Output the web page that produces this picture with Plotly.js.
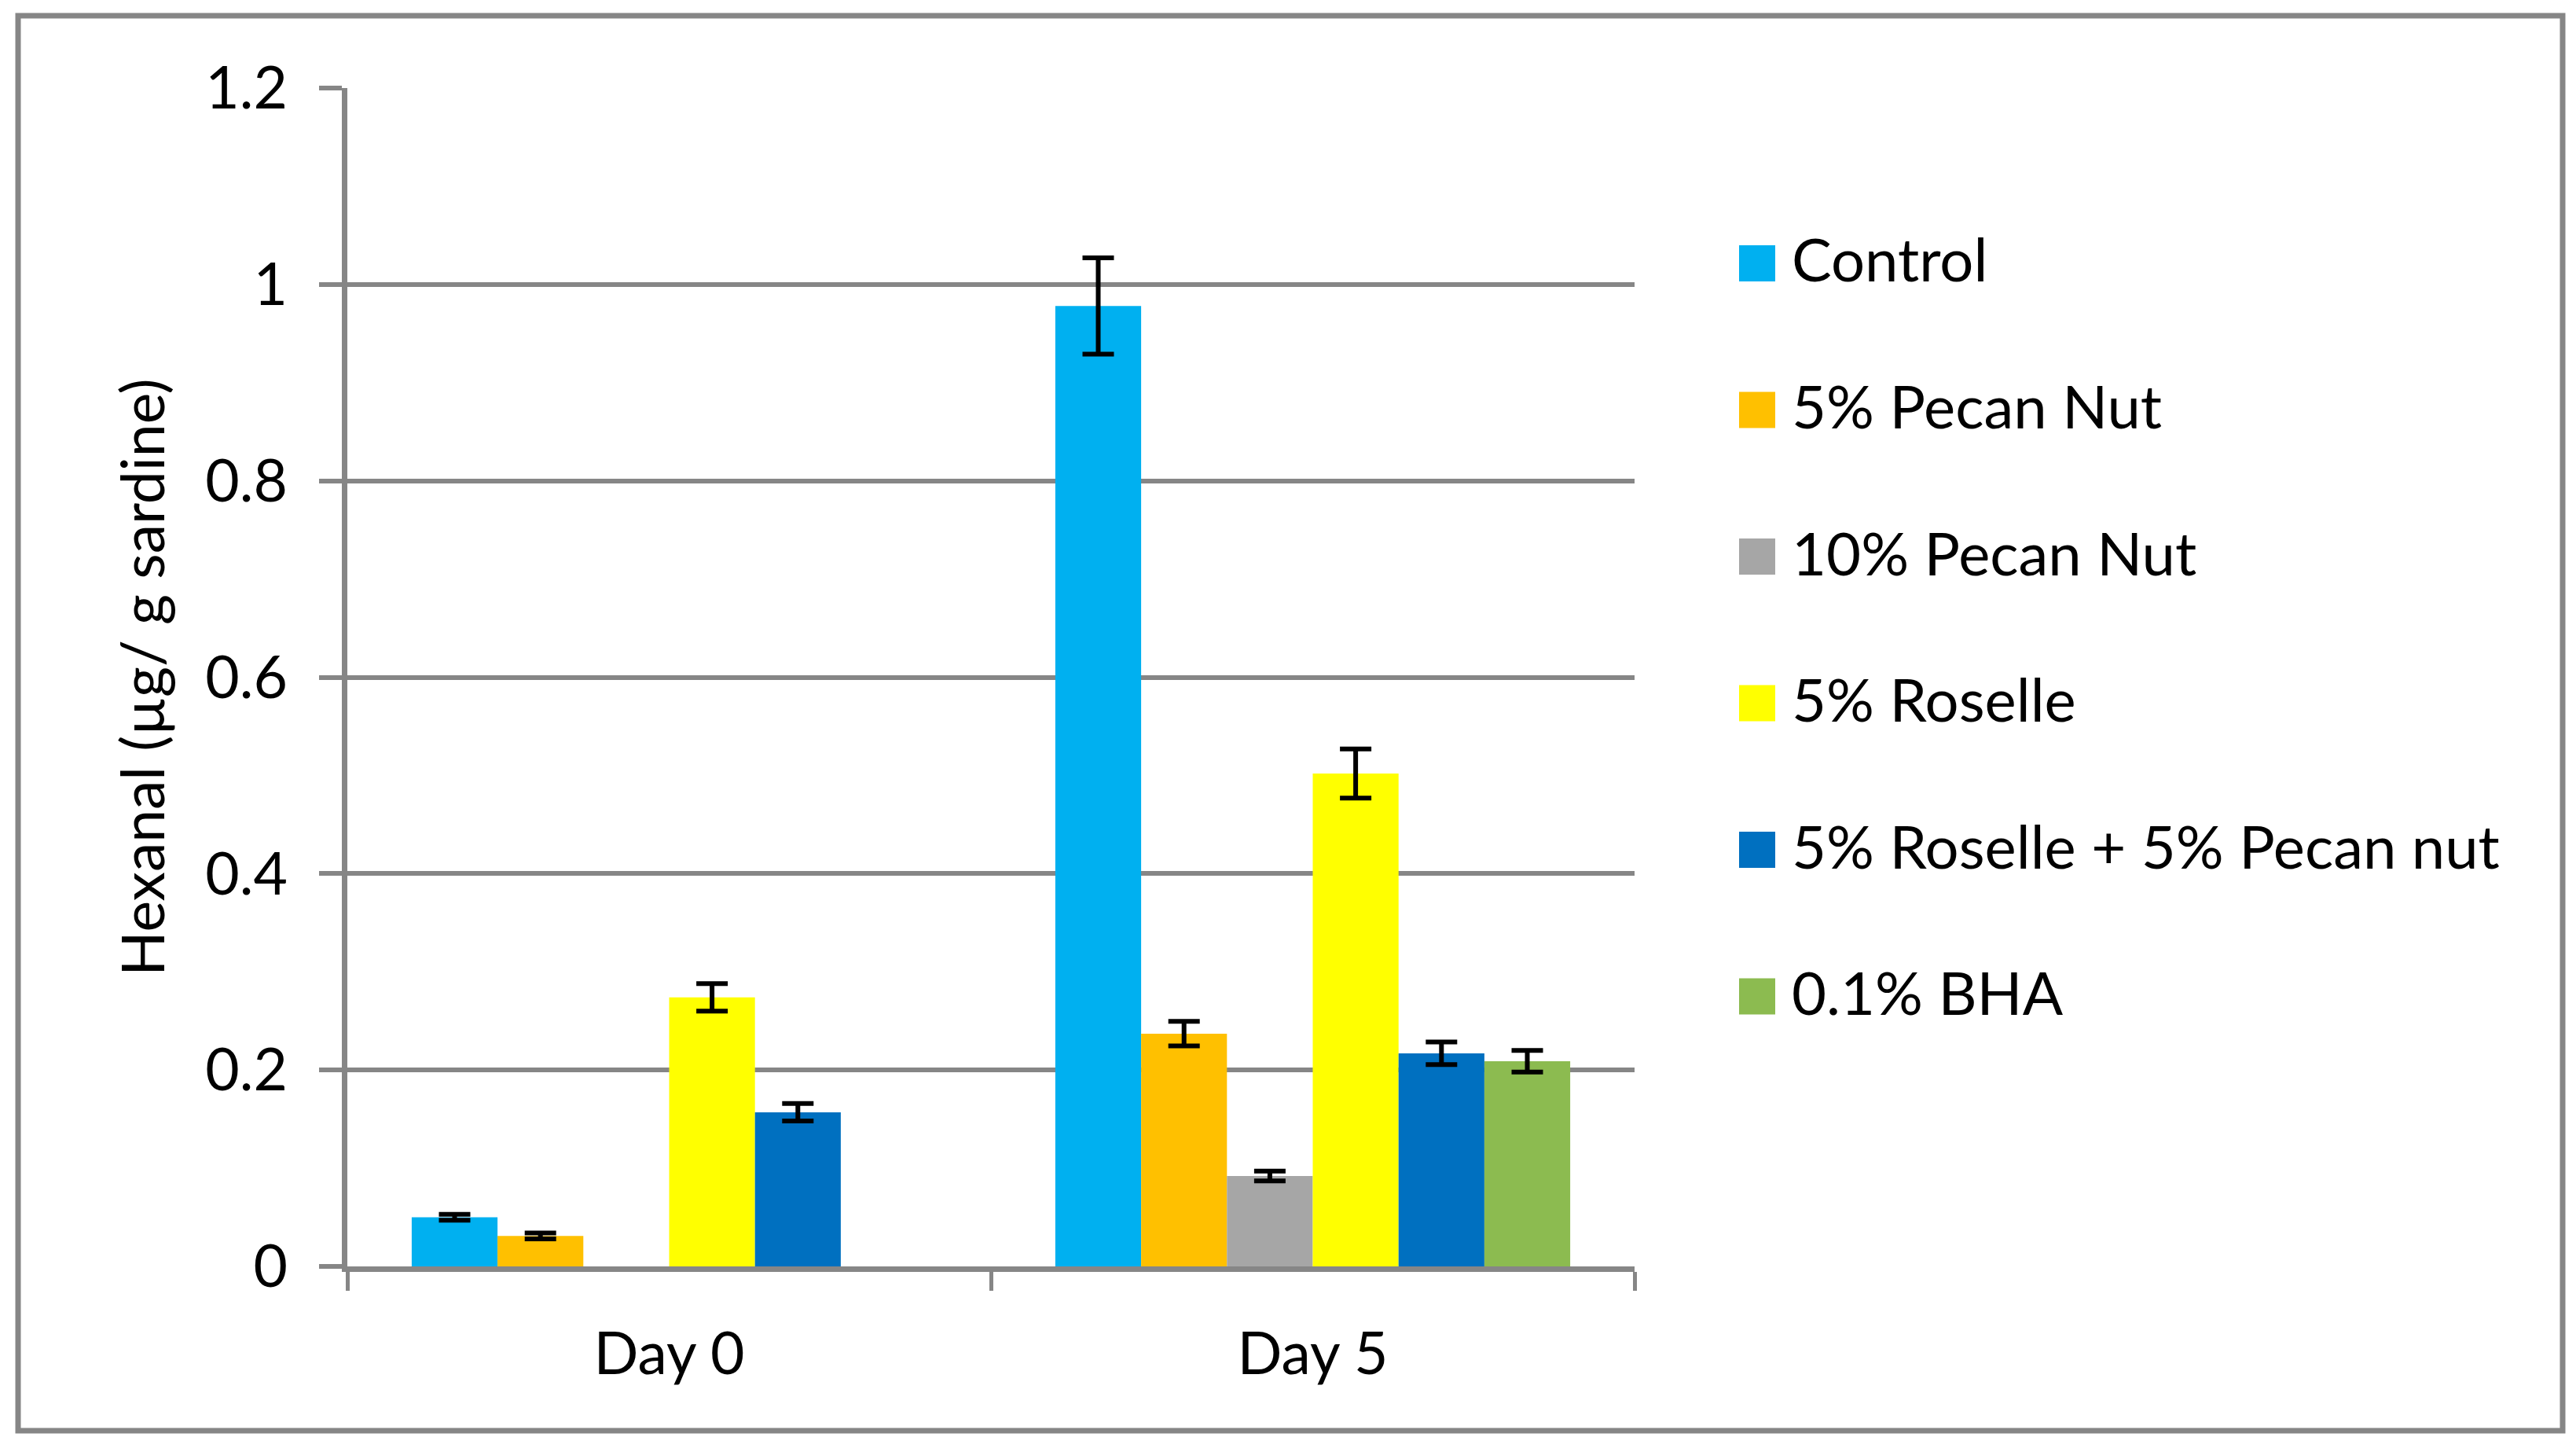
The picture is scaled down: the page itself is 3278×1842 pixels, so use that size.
<!DOCTYPE html>
<html>
<head>
<meta charset="utf-8">
<script src="https://cdn.plot.ly/plotly-3.0.1.min.js"></script>
<style>html,body{margin:0;padding:0;background:#fff;}</style>
</head>
<body>
<div id="chart" style="width:3278px;height:1842px;"></div>
<script>
// ---- data ----
const categories = ["Day 0", "Day 5"];
const seriesNames = ["Control", "5% Pecan Nut", "10% Pecan Nut", "5% Roselle", "5% Roselle + 5% Pecan nut", "0.1% BHA"];
const seriesColors = ["#00B0F0", "#FFC000", "#A6A6A6", "#FFFF00", "#0070C0", "#8CBB50"];
const control      = [0.050, 0.978];
const pecan5       = [0.031, 0.237];
const pecan10      = [null, 0.092];
const roselle5     = [0.274, 0.502];
const rosellePecan = [0.157, 0.217];
const bha          = [null, 0.209];
const controlErr      = [0.003, 0.049];
const pecan5Err       = [0.003, 0.0125];
const pecan10Err      = [null, 0.005];
const roselle5Err     = [0.014, 0.025];
const rosellePecanErr = [0.009, 0.0115];
const bhaErr          = [null, 0.011];
const yTickVals   = [0, 0.2, 0.4, 0.6, 0.8, 1, 1.2];
const yTickLabels = ["0", "0.2", "0.4", "0.6", "0.8", "1", "1.2"];
const yTitle = "Hexanal (µg/ g sardine)";

const seriesValues = [control, pecan5, pecan10, roselle5, rosellePecan, bha];
const seriesErrors = [controlErr, pecan5Err, pecan10Err, roselle5Err, rosellePecanErr, bhaErr];

// ---- layout geometry (pixels) ----
const W = 3278, H = 1842;
const L = 442, R = 2080, T = 112, B = 1611;
const gray = "#868686";
const FONT = "Lato, 'Open Sans', sans-serif";
const FS = 75;
const px2x = p => (p - L) / (R - L);
const py2y = p => (B - p) / (B - T);

const traces = seriesNames.map((name, i) => ({
  type: "bar",
  name: name,
  x: categories,
  y: seriesValues[i],
  marker: {color: seriesColors[i], line: {width: 0}},
  error_y: {type: "data", array: seriesErrors[i], visible: true, color: "#000000", thickness: 6, width: 20},
  showlegend: false,
  hoverinfo: "skip"
}));

const shapes = [];
const annotations = [];
// outer frame
shapes.push({type: "rect", xref: "paper", yref: "paper",
  x0: px2x(23), x1: px2x(3261), y0: py2y(1820), y1: py2y(20),
  line: {color: gray, width: 7}, fillcolor: "rgba(0,0,0,0)", layer: "below"});
// legend (drawn manually so swatch size matches)
const legTop = 335, legStep = 186.5;
seriesNames.forEach((name, i) => {
  const cy = legTop + i * legStep;
  shapes.push({type: "rect", xref: "paper", yref: "paper",
    x0: px2x(2213), x1: px2x(2259), y0: py2y(cy + 23), y1: py2y(cy - 23),
    fillcolor: seriesColors[i], line: {width: 0}});
  annotations.push({xref: "paper", yref: "paper", x: px2x(2278), y: py2y(cy - 6),
    xanchor: "left", yanchor: "middle", text: name, showarrow: false,
    font: {family: FONT, size: FS + 1, color: "#000"}});
});

const layout = {
  width: W, height: H,
  margin: {l: L, r: W - R, t: T, b: H - B, pad: 0},
  paper_bgcolor: "#ffffff", plot_bgcolor: "#ffffff",
  barmode: "group", bargap: 0.2, bargroupgap: 0,
  font: {family: FONT, size: FS, color: "#000"},
  showlegend: false,
  xaxis: {
    type: "category", showgrid: false, zeroline: false,
    showline: true, linecolor: gray, linewidth: 7,
    ticks: "outside", tickson: "boundaries", ticklen: 24, tickwidth: 5, tickcolor: gray,
    tickfont: {family: FONT, size: FS, color: "#000"},
    ticklabelstandoff: 40,
    automargin: false, fixedrange: true
  },
  yaxis: {
    range: [0, 1.2], tickvals: yTickVals, ticktext: yTickLabels,
    showgrid: true, gridcolor: gray, gridwidth: 6, zeroline: false,
    showline: true, linecolor: gray, linewidth: 7,
    ticks: "outside", ticklen: 29, tickwidth: 6, tickcolor: gray,
    tickfont: {family: FONT, size: FS, color: "#000"},
    ticklabelstandoff: 25,
    title: {text: yTitle, font: {family: FONT, size: FS, color: "#000"}, standoff: 30},
    automargin: false, fixedrange: true
  },
  shapes: shapes,
  annotations: annotations
};

Plotly.newPlot("chart", traces, layout, {displayModeBar: false, staticPlot: true});
</script>
</body>
</html>
